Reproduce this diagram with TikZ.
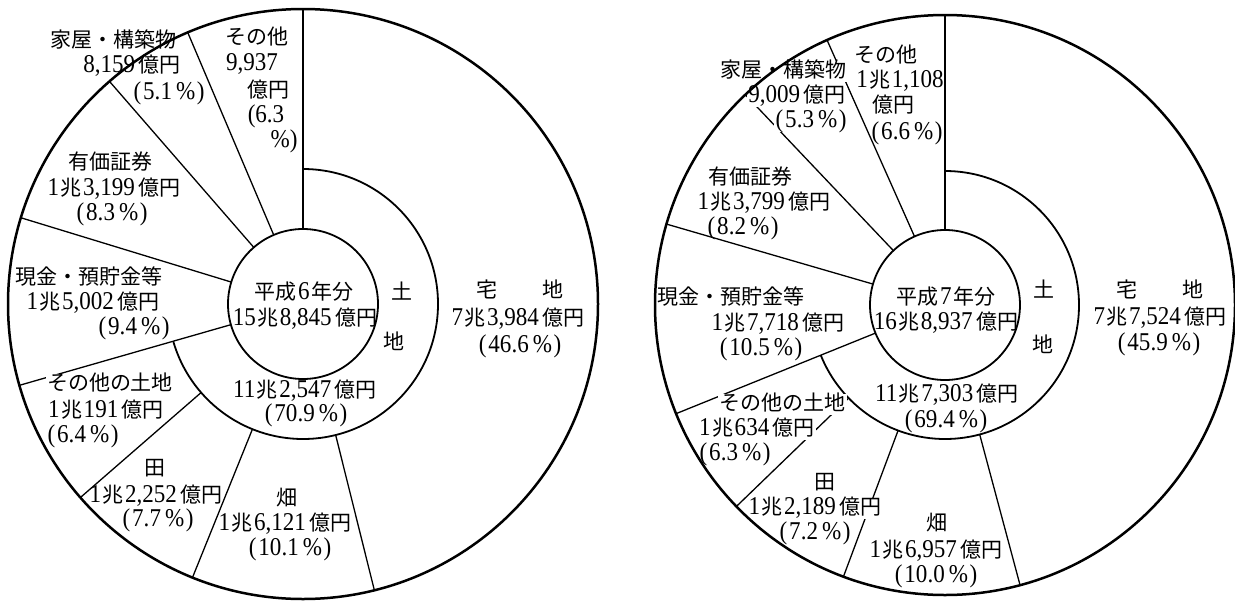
\documentclass[tikz,border=0pt]{standalone}
\usepackage{fontspec}
\setmainfont{Liberation Serif}[Scale=1.22,FakeStretch=0.9]
\newfontfamily\jp{Noto Sans CJK JP}
\usetikzlibrary{calc}
\newcommand\jcho{\kern1.5pt{\jp 兆}\kern1.5pt}
\newcommand\joku{\kern3.5pt{\jp 億円}}
\newcommand\jpct[1]{(\kern2pt#1\kern4pt\%\kern1.5pt)}
\begin{document}
\begin{tikzpicture}[x=1pt,y=-1pt,
  outer/.style={line width=2.5pt},
  ring/.style={line width=1.8pt},
  seg/.style={line width=1.3pt},
  vseg/.style={line width=1.7pt},
  lb/.style={anchor=base,yshift=-7.5pt,inner sep=0pt,text height=15pt,text depth=3pt,font=\fontsize{21}{24}\selectfont},
  wlb/.style={lb,fill=white,inner sep=1.5pt}]
\useasboundingbox (0,0) rectangle (1235,603);
\fill[white] (0,0) rectangle (1235,603);

% ---------------- left chart (Heisei 6) ----------------
\coordinate (L) at (303,304);
\draw[vseg] ($(L)+(-90:75)$) -- ($(L)+(-90:295)$);
\foreach \a in {76,112,139} \draw[seg] ($(L)+(\a:135)$) -- ($(L)+(\a:295)$);
\foreach \a in {164,-163,-131,-113} \draw[seg] ($(L)+(\a:75)$) -- ($(L)+(\a:295)$);
\draw[ring] ($(L)+(-90:135)$) arc[start angle=-90,end angle=164,radius=135];
\draw[ring] (L) circle[radius=75];

\node[lb] (lka1) at (113,40) {\jp 家屋・構築物};
\node[lb] (lka2) at (132,65) {8,159\joku};
\node[lb] (lka3) at (169,92) {\jpct{5.1}};
\node[lb] (lso1) at (257,37) {\jp その他};
\node[lb] (lso2) at (252,63) {9,937};
\node[lb] (lso3) at (268,90) {\jp 億円};
\node[lb] (lso4) at (266,115) {(6.3};
\node[lb] (lso5) at (284,140) {\%)};
\node[lb] (lyu1) at (110,162) {\jp 有価証券};
\node[lb] (lyu2) at (114,188) {1\jcho 3,199\joku};
\node[lb] (lyu3) at (112,213) {\jpct{8.3}};
\node[lb] (lge1) at (89,277) {\jp 現金・預貯金等};
\node[lb] (lge2) at (93,302) {1\jcho 5,002\joku};
\node[lb] (lge3) at (134,327) {\jpct{9.4}};
\node[wlb] (lst1) at (110,383) {\jp その他の土地};
\node[lb] (lst2) at (106,410) {1\jcho 191\joku};
\node[lb] (lst3) at (83,435) {\jpct{6.4}};
\node[lb] (lta1) at (155,468) {\jp 田};
\node[lb] (lta2) at (156,495) {1\jcho 2,252\joku};
\node[lb] (lta3) at (158,519) {\jpct{7.7}};
\node[lb] (lha1) at (287,498) {\jp 畑};
\node[lb] (lha2) at (285,523) {1\jcho 6,121\joku};
\node[lb] (lha3) at (290,548) {\jpct{10.1}};
\node[lb] (lc1) at (304,292) {{\jp 平成}\kern2pt 6\kern2pt{\jp 年分}};
\node[lb] (lc2) at (305,318) {15\jcho 8,845\joku};
\node[lb] (ldo) at (402,292) {\jp 土};
\node[lb] (lchi) at (394,342) {\jp 地};
\node[lb] (ltk1) at (520,290) {{\jp 宅}\hspace{46pt}{\jp 地}};
\node[lb] (ltk2) at (518,318) {7\jcho 3,984\joku};
\node[lb] (ltk3) at (520,345) {\jpct{46.6}};
\node[lb] (lla1) at (305,390) {11\jcho 2,547\joku};
\node[lb] (lla2) at (306,414) {\jpct{70.9}};
\draw[outer] (L) circle[radius=295];

% ---------------- right chart (Heisei 7) ----------------
\coordinate (R) at (945,305);
\draw[vseg] ($(R)+(-90:75)$) -- ($(R)+(-90:290)$);
\foreach \a in {75,110.5,136} \draw[seg] ($(R)+(\a:134)$) -- ($(R)+(\a:290)$);
\foreach \a in {158,-163.8,-133.5,-114} \draw[seg] ($(R)+(\a:75)$) -- ($(R)+(\a:290)$);
\draw[ring] ($(R)+(-90:134)$) arc[start angle=-90,end angle=158,radius=134];
\draw[ring] (R) circle[radius=75];

\node[wlb] (rka1) at (783,70) {\jp 家屋・構築物};
\node[wlb] (rka2) at (797,95) {9,009\joku};
\node[wlb] (rka3) at (811,120) {\jpct{5.3}};
\node[lb] (rso1) at (886,55) {\jp その他};
\node[lb] (rso2) at (900,80) {1\jcho 1,108};
\node[lb] (rso3) at (893,105) {\jp 億円};
\node[lb] (rso4) at (907,132) {\jpct{6.6}};
\node[lb] (ryu1) at (750,177) {\jp 有価証券};
\node[lb] (ryu2) at (764,202) {1\jcho 3,799\joku};
\node[lb] (ryu3) at (743,227) {\jpct{8.2}};
\node[lb] (rge1) at (731,297) {\jp 現金・預貯金等};
\node[lb] (rge2) at (778,323) {1\jcho 7,718\joku};
\node[lb] (rge3) at (761,348) {\jpct{10.5}};
\node[wlb] (rst1) at (782,403) {\jp その他の土地};
\node[wlb] (rst2) at (757,428) {1\jcho 634\joku};
\node[lb] (rst3) at (735,453) {\jpct{6.3}};
\node[lb] (rta1) at (825,482) {\jp 田};
\node[wlb] (rta2) at (815,507) {1\jcho 2,189\joku};
\node[lb] (rta3) at (815,532) {\jpct{7.2}};
\node[lb] (rha1) at (937,523) {\jp 畑};
\node[lb] (rha2) at (936,550) {1\jcho 6,957\joku};
\node[lb] (rha3) at (936,575) {\jpct{10.0}};
\node[lb] (rc1) at (946,297) {{\jp 平成}\kern2pt 7\kern2pt{\jp 年分}};
\node[lb] (rc2) at (946,322) {16\jcho 8,937\joku};
\node[lb] (rdo) at (1044,290) {\jp 土};
\node[lb] (rchi) at (1043,345) {\jp 地};
\node[lb] (rtk1) at (1160,290) {{\jp 宅}\hspace{45pt}{\jp 地}};
\node[lb] (rtk2) at (1160,317) {7\jcho 7,524\joku};
\node[lb] (rtk3) at (1159,343) {\jpct{45.9}};
\node[lb] (rla1) at (947,394) {11\jcho 7,303\joku};
\node[lb] (rla2) at (946,420) {\jpct{69.4}};
\draw[outer] (R) circle[radius=290];
\end{tikzpicture}
\end{document}
